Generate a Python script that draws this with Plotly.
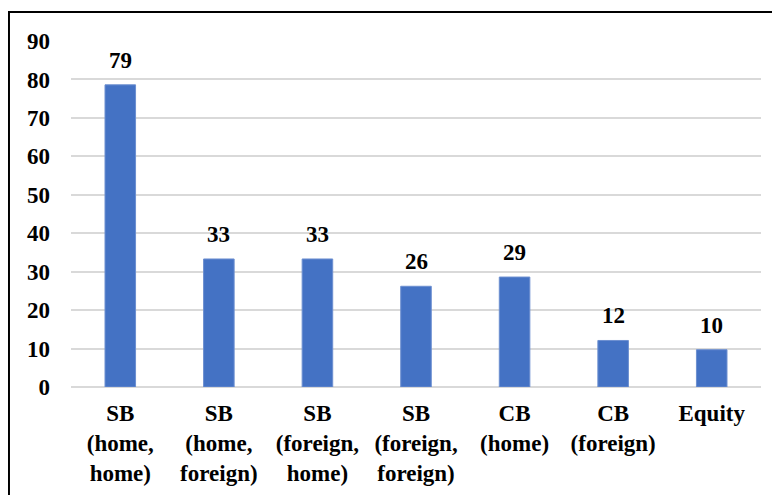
import plotly.graph_objects as go

categories = ["SB<br>(home,<br>home)", "SB<br>(home,<br>foreign)", "SB<br>(foreign,<br>home)",
              "SB<br>(foreign,<br>foreign)", "CB<br>(home)", "CB<br>(foreign)", "Equity"]
values = [78.6, 33.3, 33.3, 26.2, 28.6, 12.1, 9.7]
labels = ["79", "33", "33", "26", "29", "12", "10"]
y_ticks = [0, 10, 20, 30, 40, 50, 60, 70, 80, 90]

font_family = "Liberation Serif"

fig = go.Figure(go.Bar(
    x=categories,
    y=values,
    marker=dict(color="#4472C4", line=dict(color="#6C8FD0", width=1)),
    width=0.31,
))

# 数值标签放在柱子上方
for c, v, t in zip(categories, values, labels):
    fig.add_annotation(x=c, y=v, text=t, showarrow=False, yanchor="bottom", yshift=10,
                       font=dict(family=font_family, size=23, color="black", weight="bold"))

fig.update_layout(
    width=780, height=495,
    margin=dict(l=63, r=27, t=33, b=116),
    plot_bgcolor="white", paper_bgcolor="white",
    showlegend=False,
    font=dict(family=font_family, size=23, color="black", weight="bold"),
)
fig.update_yaxes(range=[0, 90], tickvals=y_ticks, showgrid=True, gridcolor="#D9D9D9", gridwidth=1.5,
                 zeroline=True, zerolinecolor="#D9D9D9", zerolinewidth=1.5, showline=False,
                 ticks="", ticklabelstandoff=20,
                 tickfont=dict(family=font_family, size=23, color="black", weight="bold"))
fig.update_xaxes(showline=False, ticks="", ticklabelstandoff=10,
                 tickfont=dict(family=font_family, size=23, color="black", weight="bold"))

# 外框（右侧和底部超出画面）
fig.add_shape(type="rect", xref="paper", yref="paper", x0=-0.0899, x1=1.05, y0=-0.4, y1=1.0838,
              line=dict(color="black", width=2))

fig.write_html("out.html")
